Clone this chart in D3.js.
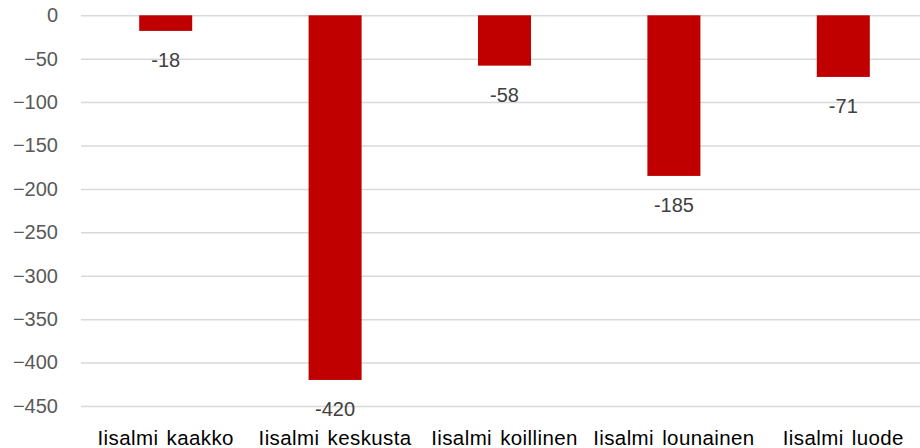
<!DOCTYPE html>
<html><head><meta charset="utf-8">
<script src="https://cdn.jsdelivr.net/npm/d3@7"></script>
<style>body{margin:0;background:#fff;overflow:hidden}svg{display:block}</style>
</head><body>
<script>
const categories = ["Iisalmi kaakko","Iisalmi keskusta","Iisalmi koillinen","Iisalmi lounainen","Iisalmi luode"];
const values = [-18,-420,-58,-185,-71];
const tickValues = [0,-50,-100,-150,-200,-250,-300,-350,-400,-450];

const W=920,H=448;
const svg=d3.select("body").append("svg").attr("width",W).attr("height",H);
const x=d3.scaleBand().domain(categories).range([81,928]).paddingInner(0.687).paddingOuter(0.3435);
const y=d3.scaleLinear().domain([0,-450]).range([15.3,406]);
const font="Liberation Sans, Arial, sans-serif";

const yAxis=d3.axisLeft(y).tickValues(tickValues).tickSize(-(928-81)).tickFormat(d=>d===0?"0":d3.format("d")(d)).tickPadding(23);
const gy=svg.append("g").attr("transform","translate(81,0)").call(yAxis);
gy.select(".domain").remove();
gy.selectAll(".tick line").attr("stroke","#d9d9d9").attr("stroke-width",1.5);
gy.selectAll(".tick text").attr("fill","#595959").attr("font-family",font).attr("font-size",20);

svg.selectAll("rect.bar").data(values).join("rect").attr("class","bar")
  .attr("x",(d,i)=>x(categories[i])).attr("width",x.bandwidth())
  .attr("y",y(0)).attr("height",d=>y(d)-y(0)).attr("fill","#c00000");

svg.selectAll("text.lbl").data(values).join("text").attr("class","lbl")
  .attr("x",(d,i)=>x(categories[i])+x.bandwidth()/2).attr("y",d=>y(d)+29)
  .attr("dy","0.35em").attr("text-anchor","middle").attr("fill","#404040")
  .attr("font-family",font).attr("font-size",20).text(d=>d);

const xAxis=d3.axisBottom(x).tickSize(0).tickPadding(0);
const gx=svg.append("g").attr("transform","translate(0,430.5)").call(xAxis);
gx.select(".domain").remove();
gx.selectAll(".tick text").attr("fill","#000").attr("font-family",font).attr("font-size",20.5)
  .attr("letter-spacing","0.4px").attr("word-spacing","2px").attr("dy","0.71em");
</script>
</body></html>
